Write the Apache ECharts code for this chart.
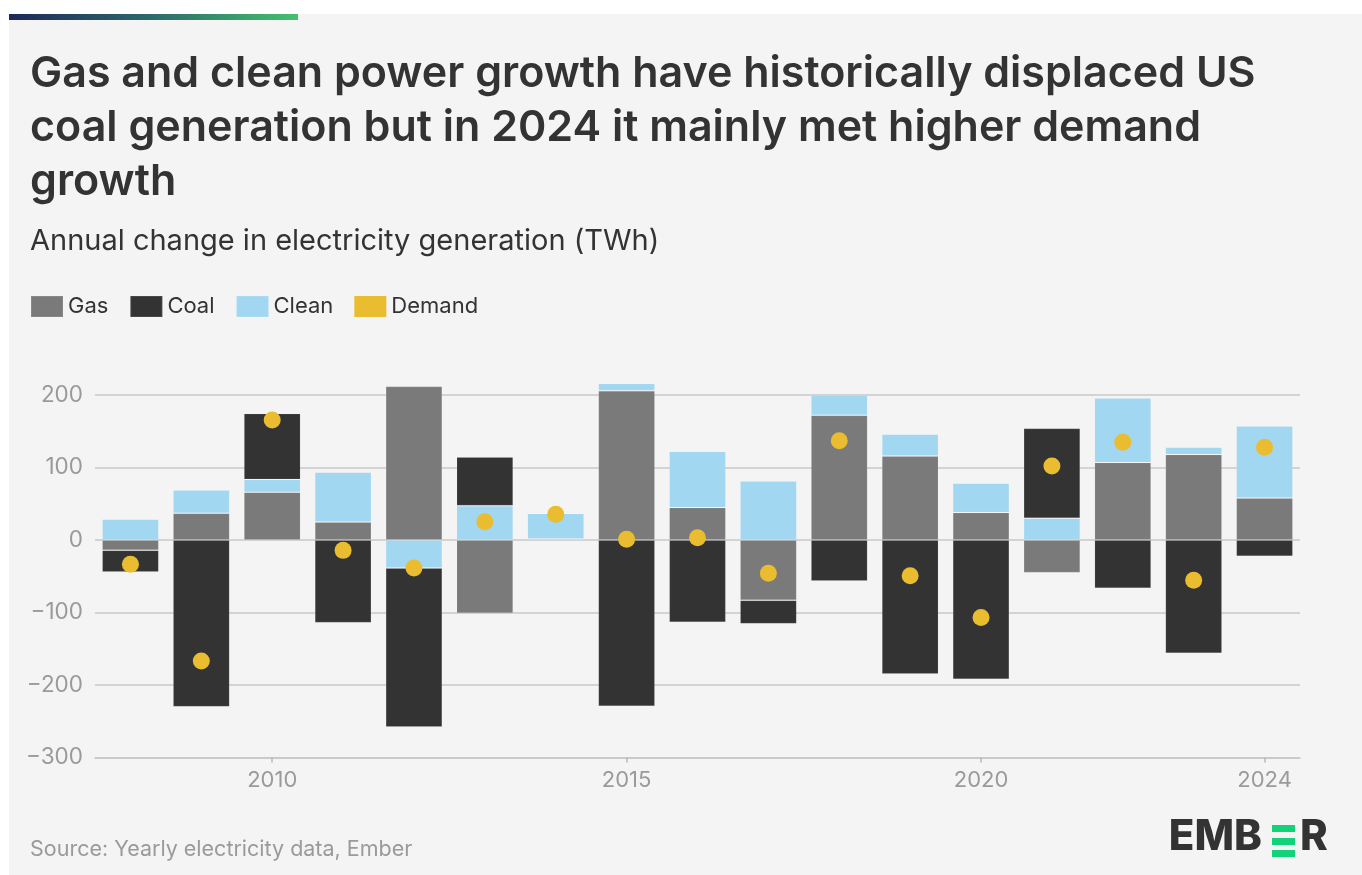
<!DOCTYPE html>
<html>
<head>
<meta charset="utf-8">
<script src="https://cdn.jsdelivr.net/npm/echarts@6/dist/echarts.min.js"></script>
<style>html,body{margin:0;padding:0;background:#fff;}#c{width:1362px;height:875px;}</style>
</head>
<body>
<div id="c"></div>
<script>
const years = ['2008','2009','2010','2011','2012','2013','2014','2015','2016','2017','2018','2019','2020','2021','2022','2023','2024'];
const gas    = [-14, 37, 66, 25, 212, -101, 1.5, 206, 45, -83, 172, 116, 38, -45, 107, 118, 58];
const clean  = [28.5, 32, 17.5, 68.5, -38.6, 47.4, 35, 10, 77, 81.4, 28, 30, 40.4, 30, 89, 10, 99.3];
const coal   = [-30, -230, 91, -114, -219.4, 67, 0, -229.4, -113.6, -32.6, -56.6, -184.8, -192.2, 124, -66.7, -156.3, -22.5];
const demand = [-33.5, -167, 165.5, -14.3, -38.6, 25.3, 35.4, 1, 3.2, -46, 137, -49.2, -107, 102, 135, -55.6, 127.8];
const shownYears = ['2010','2015','2020','2024'];
const yTicks = [-300, -200, -100, 0, 100, 200];

const FONT = 'Inter';
const chart = echarts.init(document.getElementById('c'), null, {renderer:'canvas'});
const showYear = (i, v) => shownYears.indexOf(v) >= 0;
const barBorder = {borderColor:'rgba(255,255,255,0.1)', borderWidth:1};

chart.setOption({
  backgroundColor:'#ffffff',
  animation:false,
  textStyle:{fontFamily:FONT},
  graphic:[
    {type:'rect', z:-10, shape:{x:9,y:14,width:1353,height:861}, style:{fill:'#f4f4f4'}},
    {type:'rect', z:-9, shape:{x:9,y:14,width:289,height:6},
      style:{fill:new echarts.graphic.LinearGradient(0,0,1,0,[{offset:0,color:'#1e285a'},{offset:0.5,color:'#2d6a6c'},{offset:1,color:'#45c06d'}])}},
    {type:'text', left:30, top:839, style:{text:'Source: Yearly electricity data, Ember', font:'21.5px Inter', fill:'#9a9a9a'}},
    {type:'text', x:1262, y:858, style:{text:'EMB', font:'800 42px Inter', fill:'#333333', textAlign:'right', textVerticalAlign:'bottom'}},
    {type:'rect', shape:{x:1272,y:825,width:23,height:7}, style:{fill:'#12d27a'}},
    {type:'rect', shape:{x:1272,y:838,width:23,height:7}, style:{fill:'#12d27a'}},
    {type:'rect', shape:{x:1272,y:850,width:23,height:7}, style:{fill:'#12d27a'}},
    {type:'text', x:1300, y:858, style:{text:'R', font:'800 42px Inter', fill:'#333333', textAlign:'left', textVerticalAlign:'bottom'}}
  ],
  title:[
    {text:'Gas and clean power growth have historically displaced US\ncoal generation but in 2024 it mainly met higher demand\ngrowth',
     left:30, top:47, padding:0,
     textStyle:{fontFamily:FONT, fontSize:43, fontWeight:600, color:'#333333', lineHeight:54}},
    {text:'Annual change in electricity generation (TWh)', left:30, top:227, padding:0,
     textStyle:{fontFamily:FONT, fontSize:29, fontWeight:400, color:'#333333'}}
  ],
  legend:{
    left:30, top:295, padding:0, itemWidth:32, itemHeight:21, itemGap:21,
    icon:'rect',
    data:['Gas','Coal','Clean','Demand'],
    textStyle:{fontFamily:FONT, fontSize:22, color:'#333333'}
  },
  grid:{left:95, right:62, top:395, bottom:117.5, containLabel:false},
  xAxis:{
    type:'category', data:years,
    axisLine:{onZero:false, lineStyle:{color:'#c8c8c8', width:1.5}},
    axisTick:{show:true, interval:showYear, alignWithLabel:true, length:5, lineStyle:{color:'#b8b8b8', width:1.5}},
    axisLabel:{interval:showYear, color:'#9a9a9a', fontSize:22, fontFamily:FONT, margin:12},
    splitLine:{show:false}
  },
  yAxis:{
    type:'value', min:-300, max:200, interval:100,
    axisLine:{show:false}, axisTick:{show:false},
    axisLabel:{color:'#9a9a9a', fontSize:22.5, fontFamily:FONT, margin:12,
      formatter:v => (yTicks.indexOf(v) >= 0 ? (v < 0 ? '\u2212' + Math.abs(v) : String(v)) : '')},
    splitLine:{lineStyle:{color:'#c8c8c8', width:1.5}}
  },
  series:[
    {name:'Gas', type:'bar', stack:'g', data:gas, barWidth:'80%', clip:false, itemStyle:Object.assign({color:'#7a7a7a'}, barBorder)},
    {name:'Clean', type:'bar', stack:'g', data:clean, barWidth:'80%', clip:false, itemStyle:Object.assign({color:'#a1d7f1'}, barBorder)},
    {name:'Coal', type:'bar', stack:'g', data:coal, barWidth:'80%', clip:false, itemStyle:Object.assign({color:'#333333'}, barBorder)},
    {name:'Demand', type:'scatter', data:demand, symbol:'circle', symbolSize:17, clip:false, z:5, itemStyle:{color:'#e9bd2f', opacity:1}}
  ]
});
</script>
</body>
</html>
